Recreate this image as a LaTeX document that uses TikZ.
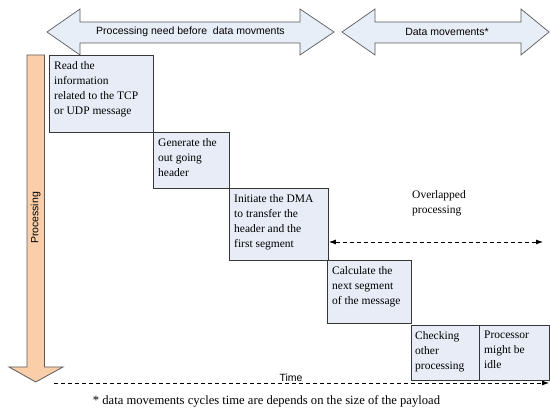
\documentclass[tikz,border=0pt]{standalone}
\usepackage{fontspec}
\setmainfont{Liberation Serif}
\setsansfont{Liberation Sans}
\usetikzlibrary{arrows.meta}
\definecolor{boxfill}{RGB}{231,236,247}
\definecolor{boxline}{RGB}{55,55,55}
\definecolor{arrowfill}{RGB}{232,238,248}
\definecolor{arrowline}{RGB}{90,90,90}
\definecolor{procfill}{RGB}{250,206,168}
\begin{document}
\begin{tikzpicture}[x=1pt,y=-1pt,
  stepbox/.style={draw=boxline,fill=boxfill,line width=0.9pt,inner sep=0pt,anchor=north west},
  steptext/.style={anchor=north west,align=left,inner sep=0pt,
    font=\fontsize{11.5}{15}\selectfont},
  bandtext/.style={font=\sffamily\fontsize{10.5}{12}\selectfont,inner sep=0pt},
  bigarrow/.style={draw=arrowline,fill=arrowfill,line width=0.7pt,line join=miter},
  dashline/.style={dash pattern=on 4pt off 3pt,line width=0.8pt,
    -{Latex[length=7pt,width=5pt]}}]
\useasboundingbox (0,0) rectangle (550,414);

% phase bands at the top
\draw[bigarrow] (47,32) -- (80,9) -- (80,22) -- (300,22) -- (300,9) -- (334,32)
  -- (300,55) -- (300,43) -- (80,43) -- (80,55) -- cycle;
\node[bandtext] (band1) at (190.5,32) {Processing need before\ \ data movments};
\draw[bigarrow] (342,32) -- (375,9) -- (375,22) -- (521,22) -- (521,9) -- (549,32)
  -- (521,55) -- (521,43) -- (375,43) -- (375,55) -- cycle;
\node[bandtext] (band2) at (447,32) {Data movements*};

% processing axis
\draw[draw=arrowline,fill=procfill,line width=0.8pt,line join=miter]
  (27,55) -- (44.5,55) -- (44.5,367) -- (63,367) -- (35.75,382) -- (9,367)
  -- (27,367) -- cycle;
\node[bandtext,rotate=90] (proc) at (35.75,218) {Processing};

% processing steps
\node[stepbox,minimum width=104pt,minimum height=77pt] (b1) at (49,55) {};
\node[steptext] (t1) at ([shift={(5,6)}]b1.north west)
  {Read the\\information\\related to the TCP\\or UDP message};
\node[stepbox,minimum width=76pt,minimum height=56pt] (b2) at (153,132) {};
\node[steptext] (t2) at ([shift={(5,6)}]b2.north west)
  {Generate the\\out going\\header};
\node[stepbox,minimum width=99pt,minimum height=72pt] (b3) at (229,188) {};
\node[steptext] (t3) at ([shift={(5,6)}]b3.north west)
  {Initiate the DMA\\to transfer the\\header and the\\first segment};
\node[stepbox,minimum width=84pt,minimum height=63pt] (b4) at (327,260) {};
\node[steptext] (t4) at ([shift={(5,6)}]b4.north west)
  {Calculate the\\next segment\\of the message};
\node[stepbox,minimum width=68pt,minimum height=55pt] (b5) at (411,325) {};
\node[steptext] (t5) at ([shift={(4,6)}]b5.north west)
  {Checking\\other\\processing};
\node[stepbox,minimum width=70pt,minimum height=55pt] (b6) at (479,325) {};
\node[steptext] (t6) at ([shift={(5,6)}]b6.north west)
  {Processor\\might be\\idle};

% overlap between processing and data movement
\node[steptext] (ovltext) at (412,190) {Overlapped\\processing};
\coordinate (ovlR) at (543,242);
\draw[dashline,{Latex[length=7pt,width=5pt]}-{Latex[length=7pt,width=5pt]}]
  (b3.east |- ovlR) -- (ovlR);

% time axis
\coordinate (t0) at (54,383);
\coordinate (tEnd) at (549,383);
\draw[dashline] (t0) -- (tEnd);
\node[bandtext,anchor=south] (time) at (291,382) {Time};

% footnote
\node[inner sep=0pt,font=\fontsize{12.6}{15}\selectfont] (note) at (266.5,401)
  {* data movements cycles time are depends on the size of the payload};
\end{tikzpicture}
\end{document}
